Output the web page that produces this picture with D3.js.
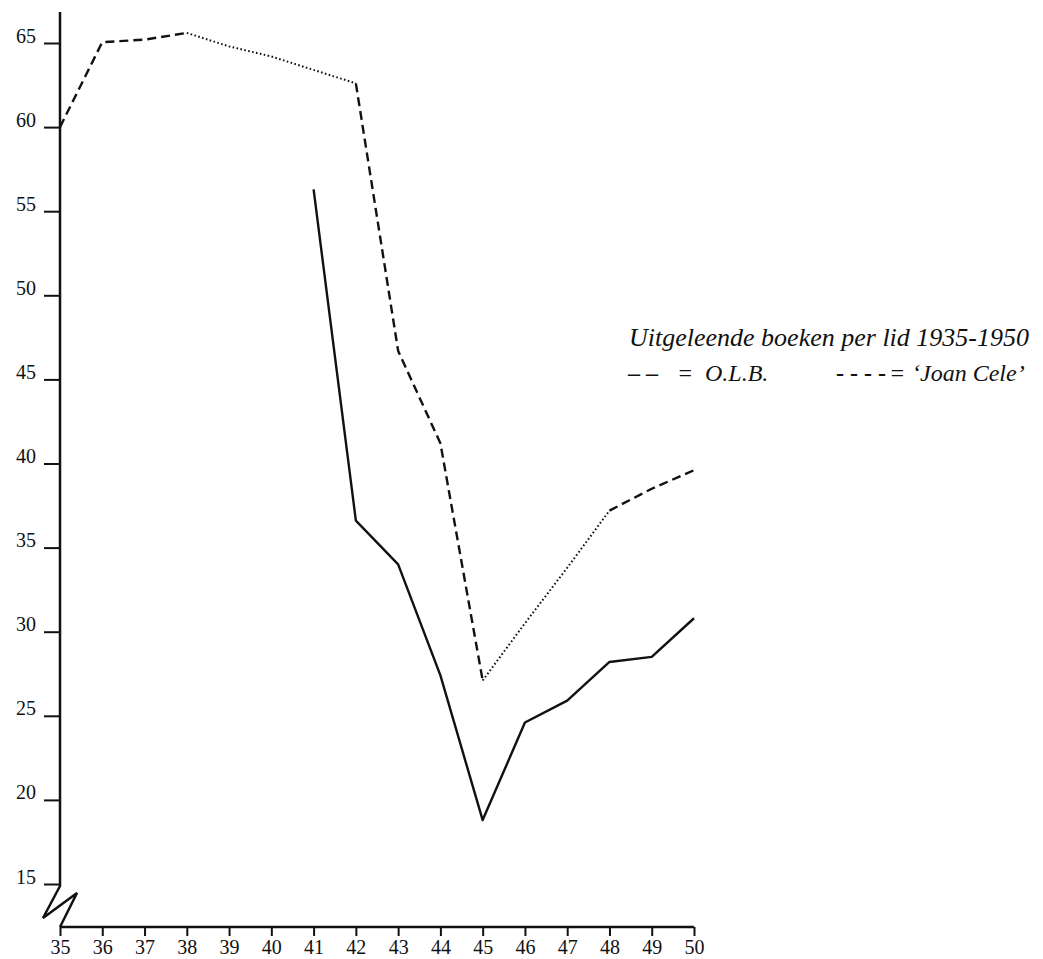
<!DOCTYPE html>
<html>
<head>
<meta charset="utf-8">
<script src="https://cdn.jsdelivr.net/npm/d3@7"></script>
<style>
  html, body { margin: 0; padding: 0; background: #fff; }
  svg { display: block; }
  text { font-family: "Liberation Serif", "Times New Roman", serif; fill: #111; }
</style>
</head>
<body>
<svg id="chart" width="1043" height="959"></svg>
<script>
// ---- data ----
const years = [35, 36, 37, 38, 39, 40, 41, 42, 43, 44, 45, 46, 47, 48, 49, 50];
const yTicks = [15, 20, 25, 30, 35, 40, 45, 50, 55, 60, 65];
// upper line (combined O.L.B. dashed / 'Joan Cele' dotted segments)
const upperValues = [60.0, 65.05, 65.2, 65.6, 64.8, 64.2, 63.4, 62.6, 46.7, 41.2, 27.1, 30.5, 33.8, 37.2, 38.5, 39.6];
// style of each segment between consecutive years
const upperSegStyle = ["dash", "dash", "dash", "dot", "dot", "dot", "dot", "dash", "dash", "dash", "dot", "dot", "dot", "dash", "dash"];
// solid line 1941-1950
const solidYears = [41, 42, 43, 44, 45, 46, 47, 48, 49, 50];
const solidValues = [56.3, 36.6, 34.0, 27.4, 18.8, 24.6, 25.9, 28.2, 28.5, 30.8];
const titleText = "Uitgeleende boeken per lid 1935-1950";
const legendSymbols = ["– –", "- - - -"];
const legendLabels = ["O.L.B.", "‘Joan Cele’"];

// ---- layout ----
const svg = d3.select("#chart");
const x = d3.scaleLinear().domain([35, 50]).range([60, 694]);
const y = d3.scaleLinear().domain([15, 65]).range([884, 43]);
const xAxisY = 927;

// y axis
const yAxis = svg.append("g").attr("transform", "translate(60,0)")
  .call(d3.axisLeft(y).tickValues(yTicks).tickSize(16).tickPadding(8).tickFormat(d3.format("d")));
yAxis.attr("font-family", null);
yAxis.select(".domain").remove();
yAxis.selectAll(".tick line").attr("stroke", "#111").attr("stroke-width", 2);
yAxis.selectAll(".tick text").attr("dy", "-0.05em").attr("font-size", 20).attr("fill", "#111");

// vertical axis line with break
svg.append("path")
  .attr("d", d3.line()([[60, 12], [60, 886], [43, 918], [77, 893], [60, 927]]))
  .attr("fill", "none").attr("stroke", "#111").attr("stroke-width", 2.5)
  .attr("stroke-linejoin", "miter");

// x axis
const xAxis = svg.append("g").attr("transform", `translate(0,${xAxisY})`)
  .call(d3.axisBottom(x).tickValues(years).tickSize(9).tickPadding(4).tickFormat(d3.format("d")));
xAxis.attr("font-family", null);
xAxis.select(".domain").attr("stroke", "#111").attr("stroke-width", 2.5).attr("d", `M${x(35)},0H${x(50)}`);
xAxis.selectAll(".tick line").attr("stroke", "#111").attr("stroke-width", 2);
xAxis.selectAll(".tick text").attr("font-size", 20).attr("fill", "#111");

// upper line: group runs of same style
const line = d3.line().x(d => x(d[0])).y(d => y(d[1]));
const runs = [];
upperSegStyle.forEach((s, i) => {
  const p0 = [years[i], upperValues[i]], p1 = [years[i + 1], upperValues[i + 1]];
  if (runs.length && runs[runs.length - 1].style === s) runs[runs.length - 1].pts.push(p1);
  else runs.push({ style: s, pts: [p0, p1] });
});
svg.append("g").selectAll("path").data(runs).join("path")
  .attr("d", d => line(d.pts))
  .attr("fill", "none").attr("stroke", "#111")
  .attr("stroke-width", d => d.style === "dash" ? 2.4 : 2)
  .attr("stroke-dasharray", d => d.style === "dash" ? "9,5" : "1.6,2.4");

// solid line
svg.append("path")
  .datum(solidYears.map((yr, i) => [yr, solidValues[i]]))
  .attr("d", line)
  .attr("fill", "none").attr("stroke", "#111").attr("stroke-width", 2.4)
  .attr("stroke-linejoin", "round");

// legend
const leg = svg.append("g").attr("font-style", "italic");
leg.append("text").attr("x", 629).attr("y", 346).attr("font-size", 26).text(titleText);
const l2 = leg.append("g").attr("transform", "translate(0,381)").attr("font-size", 24);
l2.append("text").attr("x", 628).attr("y", 0).attr("font-style", "normal").attr("font-weight", "bold").text(legendSymbols[0]);
l2.append("text").attr("x", 677).attr("y", 0).text("=");
l2.append("text").attr("x", 705).attr("y", 0).text(legendLabels[0]);
l2.append("text").attr("x", 836).attr("y", 0).attr("font-style", "normal").attr("font-weight", "bold").text(legendSymbols[1]);
l2.append("text").attr("x", 889).attr("y", 0).text("=");
l2.append("text").attr("x", 912).attr("y", 0).text(legendLabels[1]);
</script>
</body>
</html>
